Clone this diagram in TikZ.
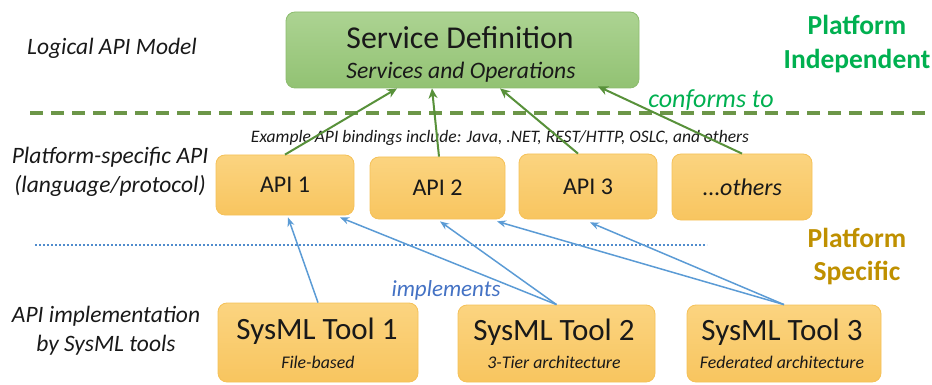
\documentclass[tikz,border=0pt]{standalone}
\usepackage{fontspec}
\setmainfont{Carlito}
\usetikzlibrary{arrows.meta,calc}
\definecolor{sdtop}{RGB}{172,211,146}
\definecolor{sdbot}{RGB}{146,194,115}
\definecolor{sdline}{RGB}{140,188,110}
\definecolor{ortop}{RGB}{251,212,128}
\definecolor{orbot}{RGB}{248,197,95}
\definecolor{orline}{RGB}{245,193,88}
\definecolor{pigreen}{RGB}{0,176,80}
\definecolor{psgold}{RGB}{191,144,0}
\definecolor{implblue}{RGB}{68,114,196}
\definecolor{arrblue}{RGB}{91,155,213}
\definecolor{dotblue}{RGB}{80,140,205}
\definecolor{arrgreen}{RGB}{88,145,58}
\definecolor{dashgreen}{RGB}{108,150,72}
\definecolor{txt}{RGB}{25,25,25}
\newcommand{\fs}[1]{\fontsize{#1}{#1}\selectfont}
\tikzset{
  x=1pt, y=-1pt,
  sdbox/.style={rounded corners=9pt, draw=sdline, line width=0.8pt, top color=sdtop, bottom color=sdbot, inner sep=0pt},
  orbox/.style={rounded corners=9pt, draw=orline, line width=0.8pt, top color=ortop, bottom color=orbot, inner sep=0pt},
  lbl/.style={inner sep=0pt, text=txt, align=center},
  conf/.style={draw=arrgreen, line width=2pt, -{Stealth[length=10pt,width=9pt,inset=3pt]}},
  impl/.style={draw=arrblue, line width=1.5pt, -{Stealth[length=9pt,width=7pt]}},
}
\begin{document}
\begin{tikzpicture}
\useasboundingbox (0,0) rectangle (932,385);
% boxes
\node[sdbox, minimum width=353pt, minimum height=76pt] (sd) at (462.5,50) {};
\node[lbl, font=\fs{31.8}] (sdt) at (460,38) {Service Definition};
\node[lbl, font=\fs{23.6}\itshape] (sds) at (461,72) {Services and Operations};

\node[orbox, minimum width=138pt, minimum height=60pt, font=\fs{24}, text=txt] (api1) at (285,185) {API 1};
\node[orbox, minimum width=135pt, minimum height=62pt, font=\fs{24}, text=txt] (api2) at (437.5,188) {API 2};
\node[orbox, minimum width=138pt, minimum height=65pt, font=\fs{24}, text=txt] (api3) at (588,186.5) {API 3};
\node[orbox, minimum width=140pt, minimum height=66pt, font=\fs{24}, text=txt] (oth) at (742,187) {...\textit{others}};

\node[orbox, minimum width=200pt, minimum height=79pt] (t1) at (318,342.5) {};
\node[orbox, minimum width=197pt, minimum height=77pt] (t2) at (556.5,343.5) {};
\node[orbox, minimum width=194pt, minimum height=77pt] (t3) at (784,343.5) {};
\node[lbl, font=\fs{31}] (t1a) at (317,331) {SysML Tool 1};
\node[lbl, font=\fs{17.8}\itshape] (t1b) at (318,362) {File-based};
\node[lbl, font=\fs{31}] (t2a) at (554,332) {SysML Tool 2};
\node[lbl, font=\fs{17.8}\itshape] (t2b) at (554,362) {3-Tier architecture};
\node[lbl, font=\fs{31}] (t3a) at (782,332) {SysML Tool 3};
\node[lbl, font=\fs{17.8}\itshape] (t3b) at (782,362) {Federated architecture};

% separators
\coordinate (dashL) at (30,113);
\coordinate (dashR) at (932,113);
\draw[dashgreen, line width=3.2pt, dash pattern=on 13pt off 8pt] (dashL) -- (dashR);
\coordinate (dotL) at (35,245);
\coordinate (dotR) at (707,245);
\draw[dotblue, line width=2.8pt, dash pattern=on 2pt off 2pt] (dotL) -- (dotR);

% side labels
\node[lbl, font=\fs{23.5}\itshape] (l1) at (112,48) {Logical API Model};
\node[lbl, font=\fs{23.5}\itshape] (l2a) at (110,157) {Platform-specific API};
\node[lbl, font=\fs{23.5}\itshape] (l2b) at (110,186) {(language/protocol)};
\node[lbl, font=\fs{23.5}\itshape] (l3a) at (106,316) {API implementation};
\node[lbl, font=\fs{23.5}\itshape] (l3b) at (106,345) {by SysML tools};

\node[lbl, font=\fs{27.5}\bfseries, text=pigreen] (pi1) at (857,25) {Platform};
\node[lbl, font=\fs{27.5}\bfseries, text=pigreen] (pi2) at (857,61) {Independent};
\node[lbl, font=\fs{27.5}\bfseries, text=psgold] (ps1) at (857,238) {Platform};
\node[lbl, font=\fs{27.5}\bfseries, text=psgold] (ps2) at (857,273) {Specific};

\node[lbl, font=\fs{17.5}\itshape] (ex) at (500,138) {Example API bindings include: Java, .NET, REST/HTTP, OSLC, and others};

% connectors
\draw[conf] (api1.north) -- ([xshift=-65.5pt]sd.south);
\draw[conf] ([xshift=1.5pt]api2.north) -- ([xshift=-30.5pt]sd.south);
\draw[conf] ([xshift=-10pt]api3.north) -- ([xshift=37.5pt]sd.south);
\draw[conf] (oth.north) -- ([xshift=135.5pt,yshift=2pt]sd.south);
\node[lbl, font=\fs{26}\itshape, text=pigreen] (conf) at (711,100) {conforms to};

\draw[impl] (t1.north) -- ([xshift=3pt,yshift=-2pt]api1.south);
\draw[impl] (t2.north) -- ([xshift=55pt,yshift=-2pt]api1.south);
\draw[impl] (t2.north) -- ([xshift=2.5pt,yshift=-2pt]api2.south);
\draw[impl] (t3.north) -- ([xshift=59.5pt,yshift=-2pt]api2.south);
\draw[impl] (t3.north) -- ([xshift=2pt,yshift=-3pt]api3.south);
\node[lbl, font=\fs{23}\itshape, text=implblue] (impl) at (446,290) {implements};
\end{tikzpicture}
\end{document}
